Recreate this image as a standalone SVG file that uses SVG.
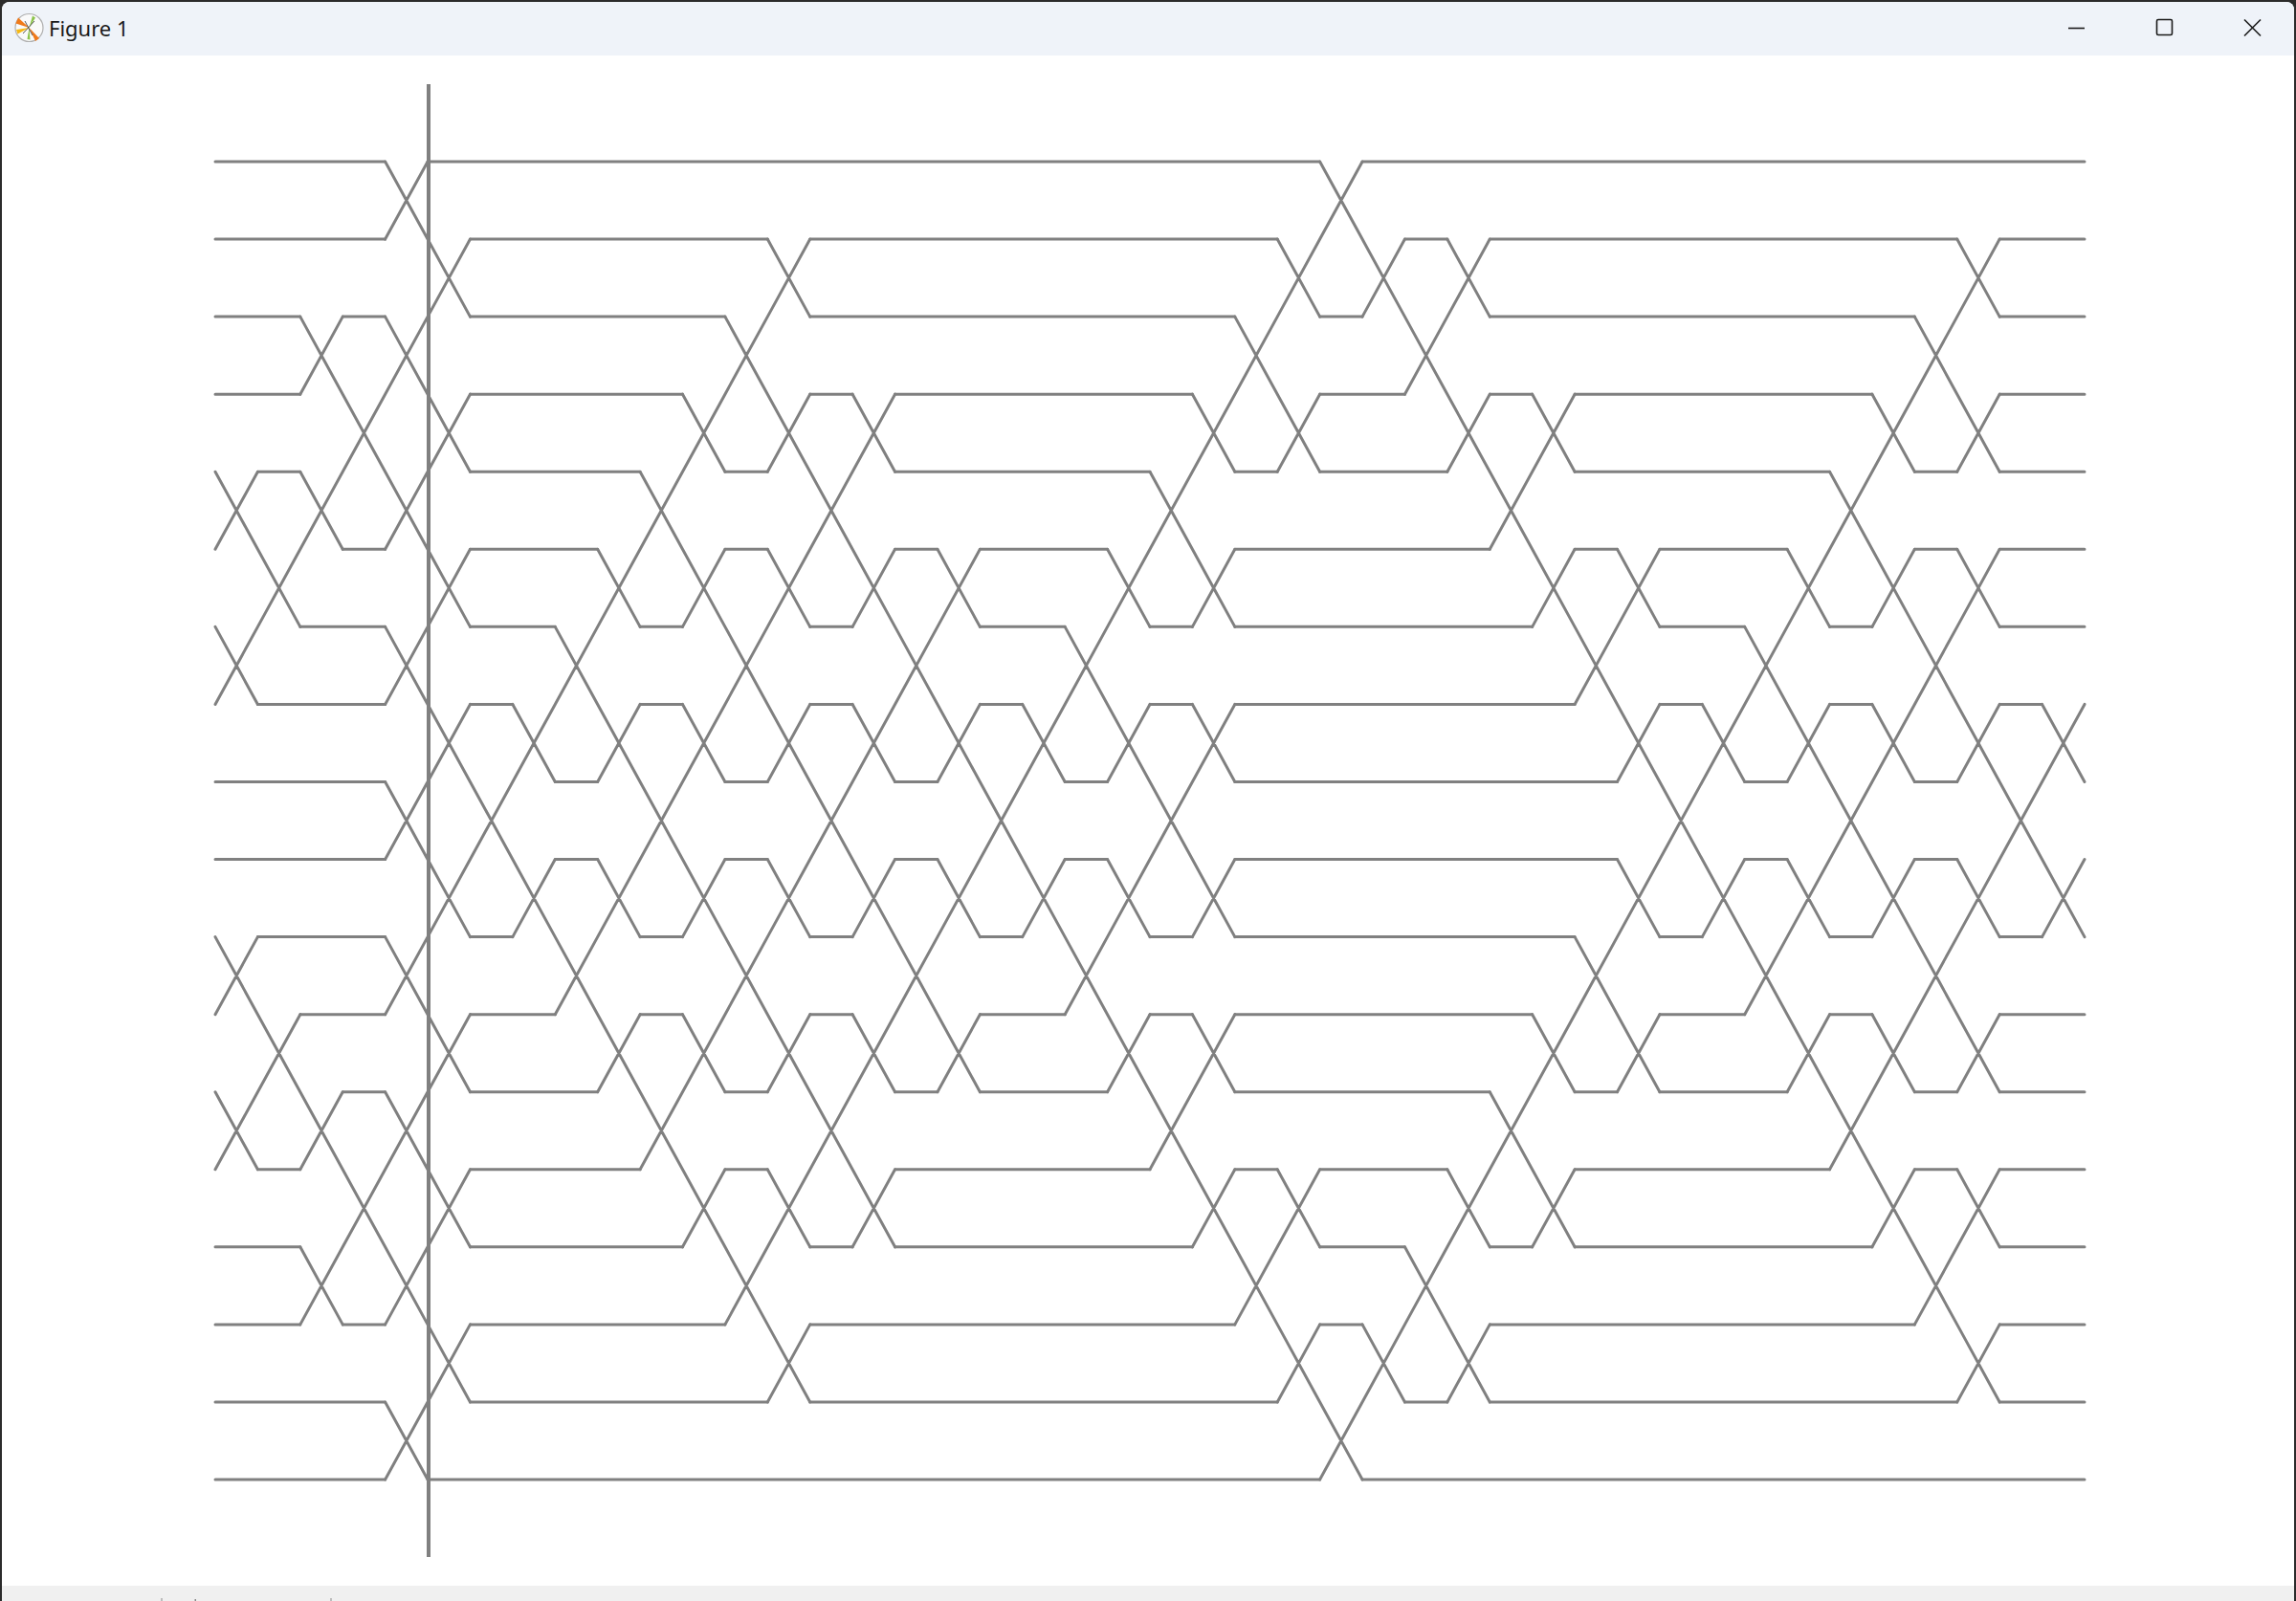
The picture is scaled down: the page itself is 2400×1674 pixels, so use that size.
<svg xmlns="http://www.w3.org/2000/svg" width="2400" height="1674" viewBox="0 0 2400 1674">
<style>
.w{fill:none;stroke:#808080;stroke-width:3;stroke-linecap:round;stroke-linejoin:round}
.btn{fill:none;stroke:#1b1b1b;stroke-width:1.6}
</style>
<rect width="2400" height="1674" fill="#2b2b2b"/>
<rect x="2" y="2" width="2396" height="1690" rx="8" fill="#ffffff"/>
<path d="M2 58V10a8 8 0 0 1 8-8H2390a8 8 0 0 1 8 8V58Z" fill="#eff3f9"/>
<g id="icon">
<circle cx="30.5" cy="29" r="14.5" fill="#fafafa" stroke="#b0b0b0" stroke-width="1.2"/>
<path d="M30.5 29L19 18.5L16.5 24.5Z" fill="#f07a1a"/>
<path d="M30.5 29L41 40L37 43Z" fill="#f07a1a"/>
<path d="M30.5 29L17 31L18.5 35.5Z" fill="#f5b814"/>
<path d="M30.5 29L34 16.5L37 18.5Z" fill="#8bc34a"/>
<path d="M30.5 29L28.5 41L31.5 41.5Z" fill="#8bc34a"/>
<path d="M24 35L36 22M26 22L34 37" stroke="#333" stroke-width="0.8" fill="none"/>
</g>
<text x="51" y="37.5" font-family="Segoe UI, Noto Sans, Liberation Sans, sans-serif" font-size="22" fill="#1a1a1a">Figure 1</text>
<g id="window-buttons">
<path class="btn" d="M2162 29.5H2179"/>
<rect class="btn" x="2254.5" y="20.5" width="16" height="16" rx="1.5"/>
<path class="btn" d="M2346 20.5L2363 37.5M2363 20.5L2346 37.5"/>
</g>
<rect x="2" y="1658" width="2396" height="16" fill="#f0f0f0"/>
<g fill="#8a8a8a">
<rect x="168.5" y="1671" width="1" height="3"/>
<rect x="203.5" y="1672" width="1.5" height="2"/>
<rect x="345.5" y="1671" width="1" height="3"/>
</g>
<g id="connectors" transform="translate(225 169) scale(44.409 81.06)">
<path class="w" vector-effect="non-scaling-stroke" d="M0 0H4M5 0H26M27 0H44
M0 1H4M6 1H13M14 1H25M28 1H29M30 1H41M42 1H44
M0 2H2M3 2H4M6 2H12M14 2H24M26 2H27M30 2H40M42 2H44
M0 3H2M6 3H11M14 3H15M16 3H23M26 3H28M30 3H31M32 3H39M42 3H44
M1 4H2M6 4H10M12 4H13M16 4H22M24 4H25M26 4H29M32 4H38M40 4H41M42 4H44
M3 5H4M6 5H9M12 5H13M16 5H17M18 5H21M24 5H30M32 5H33M34 5H37M40 5H41M42 5H44
M2 6H4M6 6H8M10 6H11M14 6H15M18 6H20M22 6H23M24 6H31M34 6H36M38 6H39M42 6H44
M1 7H4M6 7H7M10 7H11M14 7H15M18 7H19M22 7H23M24 7H32M34 7H35M38 7H39M42 7H43
M0 8H4M8 8H9M12 8H13M16 8H17M20 8H21M24 8H33M36 8H37M40 8H41
M0 9H4M8 9H9M12 9H13M16 9H17M20 9H21M24 9H33M36 9H37M40 9H41
M1 10H4M6 10H7M10 10H11M14 10H15M18 10H19M22 10H23M24 10H32M34 10H35M38 10H39M42 10H43
M2 11H4M6 11H8M10 11H11M14 11H15M18 11H20M22 11H23M24 11H31M34 11H36M38 11H39M42 11H44
M3 12H4M6 12H9M12 12H13M16 12H17M18 12H21M24 12H30M32 12H33M34 12H37M40 12H41M42 12H44
M1 13H2M6 13H10M12 13H13M16 13H22M24 13H25M26 13H29M32 13H38M40 13H41M42 13H44
M0 14H2M6 14H11M14 14H15M16 14H23M26 14H28M30 14H31M32 14H39M42 14H44
M0 15H2M3 15H4M6 15H12M14 15H24M26 15H27M30 15H40M42 15H44
M0 16H4M6 16H13M14 16H25M28 16H29M30 16H41M42 16H44
M0 17H4M5 17H26M27 17H44"/>
<path class="w" vector-effect="non-scaling-stroke" d="M0 4l1 1m-1 0l1-1M0 6l1 1m-1 0l1-1M0 10l1 1m-1 0l1-1M0 12l1 1m-1 0l1-1
M1 5l1 1m-1 0l1-1M1 11l1 1m-1 0l1-1
M2 2l1 1m-1 0l1-1M2 4l1 1m-1 0l1-1M2 12l1 1m-1 0l1-1M2 14l1 1m-1 0l1-1
M3 3l1 1m-1 0l1-1M3 13l1 1m-1 0l1-1
M4 0l1 1m-1 0l1-1M4 2l1 1m-1 0l1-1M4 4l1 1m-1 0l1-1M4 6l1 1m-1 0l1-1M4 8l1 1m-1 0l1-1M4 10l1 1m-1 0l1-1M4 12l1 1m-1 0l1-1M4 14l1 1m-1 0l1-1M4 16l1 1m-1 0l1-1
M5 1l1 1m-1 0l1-1M5 3l1 1m-1 0l1-1M5 5l1 1m-1 0l1-1M5 7l1 1m-1 0l1-1M5 9l1 1m-1 0l1-1M5 11l1 1m-1 0l1-1M5 13l1 1m-1 0l1-1M5 15l1 1m-1 0l1-1
M6 8l1 1m-1 0l1-1
M7 7l1 1m-1 0l1-1M7 9l1 1m-1 0l1-1
M8 6l1 1m-1 0l1-1M8 10l1 1m-1 0l1-1
M9 5l1 1m-1 0l1-1M9 7l1 1m-1 0l1-1M9 9l1 1m-1 0l1-1M9 11l1 1m-1 0l1-1
M10 4l1 1m-1 0l1-1M10 8l1 1m-1 0l1-1M10 12l1 1m-1 0l1-1
M11 3l1 1m-1 0l1-1M11 5l1 1m-1 0l1-1M11 7l1 1m-1 0l1-1M11 9l1 1m-1 0l1-1M11 11l1 1m-1 0l1-1M11 13l1 1m-1 0l1-1
M12 2l1 1m-1 0l1-1M12 6l1 1m-1 0l1-1M12 10l1 1m-1 0l1-1M12 14l1 1m-1 0l1-1
M13 1l1 1m-1 0l1-1M13 3l1 1m-1 0l1-1M13 5l1 1m-1 0l1-1M13 7l1 1m-1 0l1-1M13 9l1 1m-1 0l1-1M13 11l1 1m-1 0l1-1M13 13l1 1m-1 0l1-1M13 15l1 1m-1 0l1-1
M14 4l1 1m-1 0l1-1M14 8l1 1m-1 0l1-1M14 12l1 1m-1 0l1-1
M15 3l1 1m-1 0l1-1M15 5l1 1m-1 0l1-1M15 7l1 1m-1 0l1-1M15 9l1 1m-1 0l1-1M15 11l1 1m-1 0l1-1M15 13l1 1m-1 0l1-1
M16 6l1 1m-1 0l1-1M16 10l1 1m-1 0l1-1
M17 5l1 1m-1 0l1-1M17 7l1 1m-1 0l1-1M17 9l1 1m-1 0l1-1M17 11l1 1m-1 0l1-1
M18 8l1 1m-1 0l1-1
M19 7l1 1m-1 0l1-1M19 9l1 1m-1 0l1-1
M20 6l1 1m-1 0l1-1M20 10l1 1m-1 0l1-1
M21 5l1 1m-1 0l1-1M21 7l1 1m-1 0l1-1M21 9l1 1m-1 0l1-1M21 11l1 1m-1 0l1-1
M22 4l1 1m-1 0l1-1M22 8l1 1m-1 0l1-1M22 12l1 1m-1 0l1-1
M23 3l1 1m-1 0l1-1M23 5l1 1m-1 0l1-1M23 7l1 1m-1 0l1-1M23 9l1 1m-1 0l1-1M23 11l1 1m-1 0l1-1M23 13l1 1m-1 0l1-1
M24 2l1 1m-1 0l1-1M24 14l1 1m-1 0l1-1
M25 1l1 1m-1 0l1-1M25 3l1 1m-1 0l1-1M25 13l1 1m-1 0l1-1M25 15l1 1m-1 0l1-1
M26 0l1 1m-1 0l1-1M26 16l1 1m-1 0l1-1
M27 1l1 1m-1 0l1-1M27 15l1 1m-1 0l1-1
M28 2l1 1m-1 0l1-1M28 14l1 1m-1 0l1-1
M29 1l1 1m-1 0l1-1M29 3l1 1m-1 0l1-1M29 13l1 1m-1 0l1-1M29 15l1 1m-1 0l1-1
M30 4l1 1m-1 0l1-1M30 12l1 1m-1 0l1-1
M31 3l1 1m-1 0l1-1M31 5l1 1m-1 0l1-1M31 11l1 1m-1 0l1-1M31 13l1 1m-1 0l1-1
M32 6l1 1m-1 0l1-1M32 10l1 1m-1 0l1-1
M33 5l1 1m-1 0l1-1M33 7l1 1m-1 0l1-1M33 9l1 1m-1 0l1-1M33 11l1 1m-1 0l1-1
M34 8l1 1m-1 0l1-1
M35 7l1 1m-1 0l1-1M35 9l1 1m-1 0l1-1
M36 6l1 1m-1 0l1-1M36 10l1 1m-1 0l1-1
M37 5l1 1m-1 0l1-1M37 7l1 1m-1 0l1-1M37 9l1 1m-1 0l1-1M37 11l1 1m-1 0l1-1
M38 4l1 1m-1 0l1-1M38 8l1 1m-1 0l1-1M38 12l1 1m-1 0l1-1
M39 3l1 1m-1 0l1-1M39 5l1 1m-1 0l1-1M39 7l1 1m-1 0l1-1M39 9l1 1m-1 0l1-1M39 11l1 1m-1 0l1-1M39 13l1 1m-1 0l1-1
M40 2l1 1m-1 0l1-1M40 6l1 1m-1 0l1-1M40 10l1 1m-1 0l1-1M40 14l1 1m-1 0l1-1
M41 1l1 1m-1 0l1-1M41 3l1 1m-1 0l1-1M41 5l1 1m-1 0l1-1M41 7l1 1m-1 0l1-1M41 9l1 1m-1 0l1-1M41 11l1 1m-1 0l1-1M41 13l1 1m-1 0l1-1M41 15l1 1m-1 0l1-1
M42 8l1 1m-1 0l1-1
M43 7l1 1m-1 0l1-1M43 9l1 1m-1 0l1-1"/>
</g>
<g id="barrier">
<path d="M448 88V1628" stroke="#808080" stroke-width="4" fill="none"/>
</g>
</svg>
